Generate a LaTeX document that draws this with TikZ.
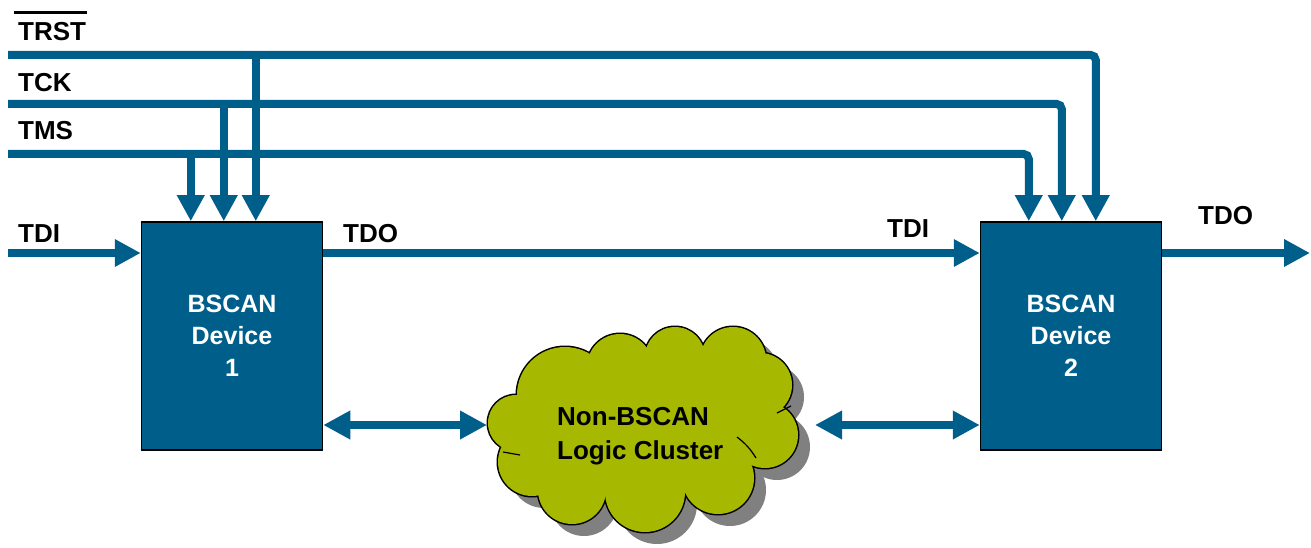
\documentclass[tikz,border=0pt]{standalone}
\usepackage{fontspec}
\setmainfont{Liberation Sans}
\usetikzlibrary{arrows.meta,calc}
\definecolor{jtagblue}{RGB}{0,94,138}
\definecolor{cloudgreen}{RGB}{166,184,0}
\definecolor{shadowgrey}{RGB}{128,128,128}

\begin{document}
\begin{tikzpicture}[x=1pt,y=-1pt,
  sig/.style={draw=jtagblue, line width=8pt},
  sigarrow/.style={sig, -{Triangle[width=26pt,length=26pt]}},
  bidir/.style={sig, {Triangle[width=27pt,length=27pt]}-{Triangle[width=27pt,length=27pt]}},
  device/.style={draw=black, line width=1.5pt, fill=jtagblue, text=white,
    minimum width=181pt, minimum height=228pt, align=center, inner sep=0pt,
    font=\fontsize{25}{32}\selectfont\bfseries},
  siglabel/.style={anchor=base west, inner sep=0pt, font=\fontsize{26}{30}\selectfont\bfseries},
  cloudtext/.style={align=left, inner sep=0pt, font=\fontsize{26}{34}\selectfont\bfseries}
]
\useasboundingbox (0,0) rectangle (1311,548);

% devices
\node[device] (d1) at (232,336) {BSCAN\\Device\\1};
\node[device] (d2) at (1071,336) {BSCAN\\Device\\2};

% free ends of the signal lines
\coordinate (trstIn) at (8,55);
\coordinate (tckIn)  at (8,104);
\coordinate (tmsIn)  at (8,154);
\coordinate (tdiIn)  at (8,253);
\coordinate (tdoOut) at (1310,253);
\coordinate (busY)   at (0,425);

% tap points on the top edge of each device
\coordinate (d1tms)  at ([xshift=50pt]d1.north west);
\coordinate (d1tck)  at ([xshift=83pt]d1.north west);
\coordinate (d1trst) at ([xshift=115pt]d1.north west);
\coordinate (d2tms)  at ([xshift=49pt]d2.north west);
\coordinate (d2tck)  at ([xshift=82pt]d2.north west);
\coordinate (d2trst) at ([xshift=116pt]d2.north west);

% cloud: shadow, outline and fill built from overlapping circles
\def\cloudbumps{516/423/28, 532/462/34, 572/490/34, 645/492/40, 718/478/36,
  765/435/33, 760/385/32, 733/360/33, 675/357/30, 620/367/33, 565/395/48}
\foreach \cx/\cy/\r in \cloudbumps
  \fill[shadowgrey] (\cx+12,\cy+12) circle[radius=\r];
\fill[shadowgrey] (657,437) ellipse[x radius=110, y radius=65];
\foreach \cx/\cy/\r in \cloudbumps
  \draw[black, line width=3pt] (\cx,\cy) circle[radius=\r];
\foreach \cx/\cy/\r in \cloudbumps
  \fill[cloudgreen] (\cx,\cy) circle[radius=\r];
\fill[cloudgreen] (645,425) ellipse[x radius=110, y radius=65];
\draw[black, line width=1.2pt] (737,437) to[bend left=10] (756,458);
\draw[black, line width=1.2pt] (777,413) -- (791,406);
\draw[black, line width=1.2pt] (503,452) -- (520,455);
\node[cloudtext, anchor=west] (cloud) at (557,436) {Non-BSCAN\\Logic Cluster};
\coordinate (cloudW) at (487,425);
\coordinate (cloudE) at (815,425);

% control signals
\draw[sigarrow, rounded corners=5pt] (trstIn) -| (d2trst);
\draw[sigarrow, rounded corners=5pt] (tckIn) -| (d2tck);
\draw[sigarrow, rounded corners=5pt] (tmsIn) -| (d2tms);
\draw[sigarrow] (d1trst |- trstIn) -- (d1trst);
\draw[sigarrow] (d1tck |- tckIn) -- (d1tck);
\draw[sigarrow] (d1tms |- tmsIn) -- (d1tms);

% scan chain
\draw[sigarrow] (tdiIn) -- (tdiIn -| d1.west);
\draw[sigarrow] (tdiIn -| d1.east) -- (tdiIn -| d2.west);
\draw[sigarrow] (tdiIn -| d2.east) -- (tdoOut);

% logic connections
\draw[bidir] (busY -| d1.east) -- (cloudW);
\draw[bidir] (cloudE) -- (busY -| d2.west);

% labels
\node[siglabel] (trst) at (18,41) {TRST};
\draw[black, line width=3.5pt] ([shift={(-4pt,10pt)}]trst.north west) -- ([shift={(1pt,10pt)}]trst.north east);
\node[siglabel] (tck) at (18,92) {TCK};
\node[siglabel] (tms) at (18,140) {TMS};
\node[siglabel] (tdi1) at (18,242) {TDI};
\node[siglabel] (tdo1) at (343,242) {TDO};
\node[siglabel] (tdi2) at (887,237) {TDI};
\node[siglabel] (tdo2) at (1198,225) {TDO};
\end{tikzpicture}
\end{document}
